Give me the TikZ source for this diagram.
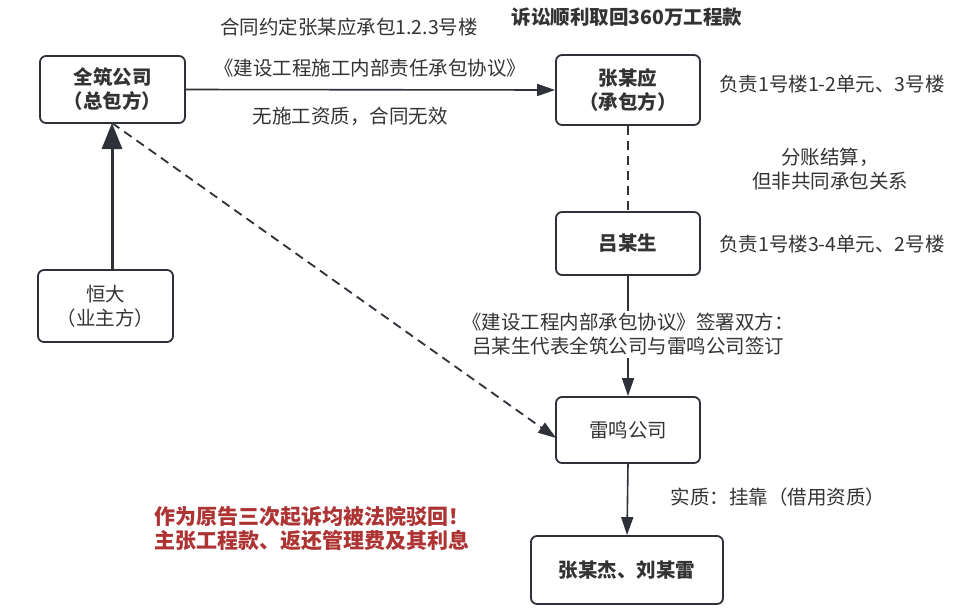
\documentclass[tikz,border=0pt]{standalone}
\usepackage{fontspec}
\setmainfont{Noto Sans CJK SC}
\usetikzlibrary{arrows.meta}
\definecolor{ink}{HTML}{2E3238}
\definecolor{txt}{HTML}{333333}
\definecolor{alert}{HTML}{AE3434}
\newcommand{\fsz}{\fontsize{19.5}{24}\selectfont}
\tikzset{
  box/.style={draw=ink, line width=1.8pt, rounded corners=6pt, fill=white, align=center, text=txt, inner sep=0pt},
  lbl/.style={text=txt, align=center, inner sep=1pt, font=\fsz},
  conn/.style={draw=ink, line width=1.6pt, -{Triangle[length=18pt,width=12pt]}},
  dconn/.style={draw=ink, line width=1.8pt, dash pattern=on 9pt off 6pt},
  bigconn/.style={draw=ink, line width=3pt, -{Triangle[length=26pt,width=20pt]}},
}
\begin{document}
\begin{tikzpicture}[x=1pt,y=-1pt]
\useasboundingbox (0,0) rectangle (963,614);
\fill[white] (0,0) rectangle (963,614);

% boxes
\node[box, minimum width=145pt, minimum height=67pt, font=\fsz\bfseries] (qz) at (112.5,89.5) {全筑公司\\（总包方）};
\node[box, minimum width=144pt, minimum height=70pt, font=\fsz\bfseries] (zy) at (628,90) {张某应\\（承包方）};
\node[box, minimum width=144pt, minimum height=63pt, font=\fsz\bfseries] (ls) at (628,243.5) {吕某生};
\node[box, minimum width=135pt, minimum height=72pt, font=\fsz] (hd) at (105.5,306) {恒大\\（业主方）};
\node[box, minimum width=144pt, minimum height=66pt, font=\fsz] (lm) at (628,430) {雷鸣公司};
\node[box, minimum width=192pt, minimum height=68pt, font=\fsz\bfseries] (zj) at (627,570) {张某杰、刘某雷};

% connectors
\coordinate (hdtop) at (112,270);
\coordinate (qzbot) at (112,123);
\coordinate (lmleft) at (556,438);
\draw[conn] (qz.east) -- (zy.west);
\draw[bigconn] (hdtop) -- (qzbot);
\draw[dconn, -{Triangle[length=18pt,width=12pt]}] (qzbot) -- (lmleft);
\draw[dconn] (zy.south) -- (ls.north);
\draw[conn] (ls.south) -- (lm.north);
\draw[conn] (lm.south) -- (zj.north);

% labels
\node[lbl] (t1) at (349,27) {合同约定张某应承包1.2.3号楼};
\node[lbl] (t2) at (370,68) {《建设工程施工内部责任承包协议》};
\node[lbl] (t3) at (350,116) {无施工资质，合同无效};
\node[lbl, font=\fsz\bfseries] (t4) at (627,17) {诉讼顺利取回360万工程款};
\node[lbl] (t5) at (832,84) {负责1号楼1-2单元、3号楼};
\node[lbl] (t6) at (830,169) {分账结算，\\但非共同承包关系};
\node[lbl] (t7) at (832,244) {负责1号楼3-4单元、2号楼};
\node[lbl, fill=white, inner sep=2pt] (t8) at (628,334.5) {《建设工程内部承包协议》签署双方：\\吕某生代表全筑公司与雷鸣公司签订};
\node[lbl] (t9) at (778,497) {实质：挂靠（借用资质）};
\node[lbl, text=alert, align=left, anchor=west, font=\fontsize{21}{24}\selectfont\bfseries] (t10) at (153,529) {作为原告三次起诉均被法院驳回！\\主张工程款、返还管理费及其利息};
\end{tikzpicture}
\end{document}
